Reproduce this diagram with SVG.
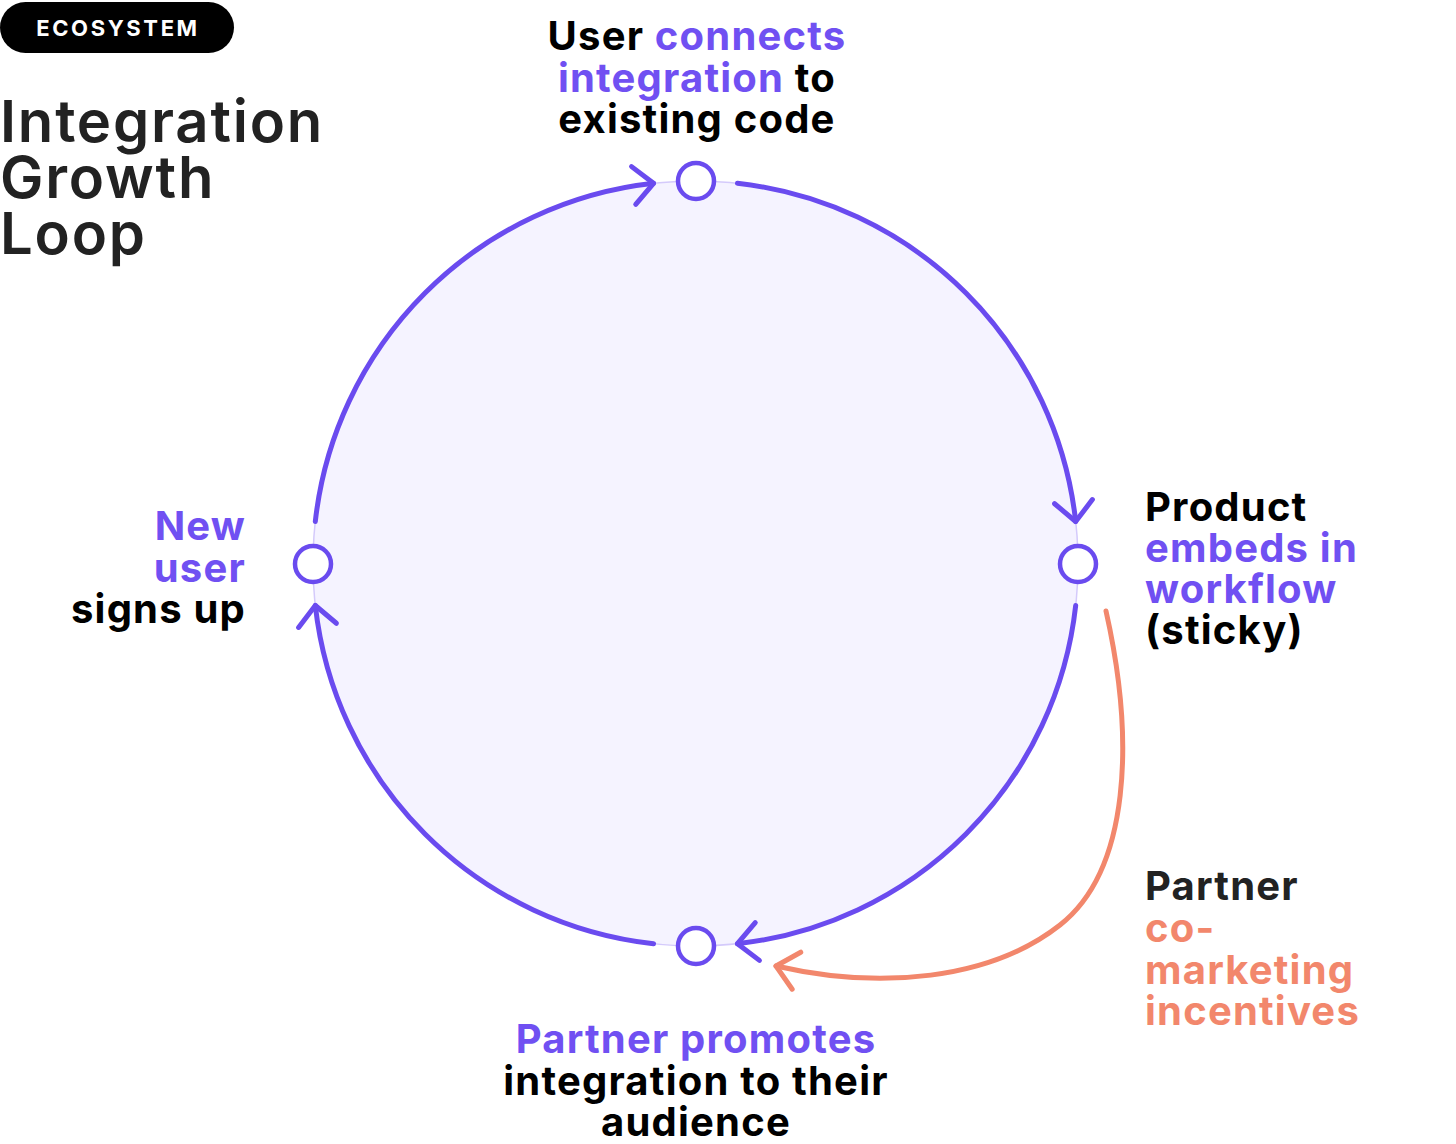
<svg xmlns="http://www.w3.org/2000/svg" width="1456" height="1144" viewBox="0 0 1456 1144">
<style>
  .t { font-family: Inter, "Noto Sans", "DejaVu Sans", sans-serif; font-weight: 700; font-size: 40px; letter-spacing: 1.2px; }
  .ttl { font-family: Inter, "Noto Sans", "DejaVu Sans", sans-serif; font-weight: 600; font-size: 58px; letter-spacing: 1.8px; fill: #222222; }
  .blk { fill: #000000; }
  .dk { fill: #222222; }
  .pur { fill: #7050F2; }
  .org { fill: #F2876C; }
  .arc { fill: none; stroke: #6A4BEF; stroke-width: 5; stroke-linecap: round; }
  .node { fill: #FFFFFF; stroke: #6A4BEF; stroke-width: 4.5; }
</style>
<defs>
  <marker id="ap" markerUnits="userSpaceOnUse" orient="auto" refX="0" refY="0" markerWidth="60" markerHeight="60" viewBox="-30 -30 60 60" overflow="visible">
    <path d="M-20,-19 L0,0 L-20,19" fill="none" stroke="#6A4BEF" stroke-width="5" stroke-linecap="round" stroke-linejoin="round"/>
  </marker>
  <marker id="ao" markerUnits="userSpaceOnUse" orient="auto" refX="0" refY="0" markerWidth="60" markerHeight="60" viewBox="-30 -30 60 60" overflow="visible">
    <path d="M-21,-19 L0,0 L-21,19" fill="none" stroke="#F2876C" stroke-width="5" stroke-linecap="round" stroke-linejoin="round"/>
  </marker>
</defs>
<rect width="1456" height="1144" fill="#FFFFFF"/>

<g id="badge">
  <rect x="0" y="2" width="234" height="51" rx="25.5" fill="#000000"/>
  <text x="118" y="36" text-anchor="middle" style="font-family: Inter, 'Noto Sans', sans-serif; font-weight: 700; font-size: 22px; letter-spacing: 2.6px;" fill="#FFFFFF">ECOSYSTEM</text>
</g>

<g id="title">
  <text class="ttl" x="0" y="142">Integration</text>
  <text class="ttl" x="0" y="198">Growth</text>
  <text class="ttl" x="0" y="254">Loop</text>
</g>

<g id="loop-background">
  <circle cx="695.5" cy="563.5" r="382.5" fill="#F5F3FF" stroke="#D4CAFB" stroke-width="1.5"/>
</g>

<g id="connectors">
  <path class="arc" d="M315.31,521.53 A382.5,382.5 0 0 1 653.53,183.31" marker-end="url(#ap)"/>
  <path class="arc" d="M737.47,183.31 A382.5,382.5 0 0 1 1075.69,521.53" marker-end="url(#ap)"/>
  <path class="arc" d="M1075.69,605.47 A382.5,382.5 0 0 1 737.47,943.69" marker-end="url(#ap)"/>
  <path class="arc" d="M653.53,943.69 A382.5,382.5 0 0 1 315.31,605.47" marker-end="url(#ap)"/>
  <path d="M1106,611 C1135,740 1130,870 1060,925 C990,980 880,990 776,966" fill="none" stroke="#F2876C" stroke-width="5" stroke-linecap="round" marker-end="url(#ao)"/>
</g>

<g id="node-top">
  <circle class="node" cx="696" cy="181" r="18"/>
  <text class="t" text-anchor="middle" x="697" y="50"><tspan class="blk">User </tspan><tspan class="pur">connects</tspan></text>
  <text class="t" text-anchor="middle" x="697" y="92"><tspan class="pur">integration</tspan><tspan class="blk"> to</tspan></text>
  <text class="t blk" text-anchor="middle" x="697" y="133">existing code</text>
</g>

<g id="node-right">
  <circle class="node" cx="1078" cy="564" r="18"/>
  <text class="t blk" x="1145" y="521">Product</text>
  <text class="t pur" x="1145" y="562">embeds in</text>
  <text class="t pur" x="1145" y="603">workflow</text>
  <text class="t blk" x="1145" y="644">(sticky)</text>
</g>

<g id="node-bottom">
  <circle class="node" cx="696" cy="946" r="18"/>
  <text class="t pur" text-anchor="middle" x="696" y="1053">Partner promotes</text>
  <text class="t blk" text-anchor="middle" x="696" y="1095">integration to their</text>
  <text class="t blk" text-anchor="middle" x="696" y="1136">audience</text>
</g>

<g id="node-left">
  <circle class="node" cx="313" cy="564" r="18"/>
  <text class="t pur" text-anchor="end" x="246" y="540">New</text>
  <text class="t pur" text-anchor="end" x="246" y="582">user</text>
  <text class="t blk" text-anchor="end" x="246" y="623">signs up</text>
</g>

<g id="label-comarketing">
  <text class="t dk" x="1145" y="900">Partner</text>
  <text class="t org" x="1145" y="942">co-</text>
  <text class="t org" x="1145" y="984">marketing</text>
  <text class="t org" x="1145" y="1025">incentives</text>
</g>
</svg>
